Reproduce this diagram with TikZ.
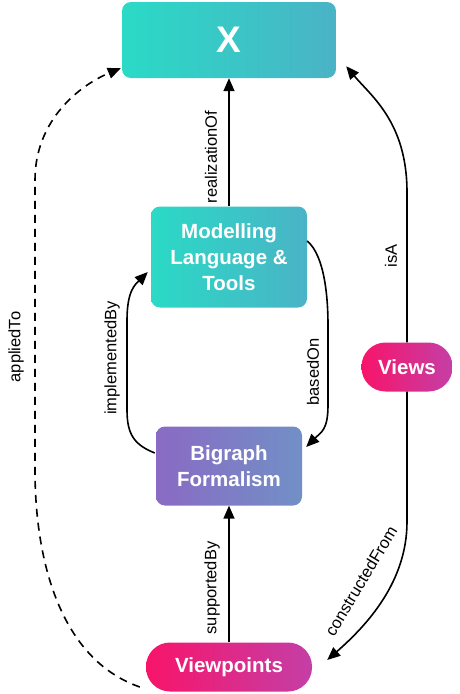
\documentclass[tikz,border=0pt]{standalone}
\usepackage{fontspec}
\setmainfont{Liberation Sans}
\usetikzlibrary{arrows.meta}
\definecolor{tealA}{HTML}{2ADAC6}
\definecolor{tealB}{HTML}{4AB3C6}
\definecolor{purA}{HTML}{8A6AC4}
\definecolor{purB}{HTML}{7190C6}
\definecolor{pinkA}{HTML}{F8146A}
\definecolor{pinkB}{HTML}{C43FA6}
\begin{document}
\begin{tikzpicture}[x=1pt,y=-1pt,
  box/.style={rounded corners=9pt, text=white, align=center, inner sep=0pt,
    font=\bfseries\fontsize{20.5}{26}\selectfont},
  tealbox/.style={box, left color=tealA, right color=tealB},
  purbox/.style={box, left color=purA, right color=purB},
  pill/.style={box, rounded corners=24pt, left color=pinkA, right color=pinkB},
  rel/.style={-{Triangle[length=13pt,width=11pt]}, line width=1.6pt},
  lbl/.style={font=\fontsize{16.5}{19}\selectfont, inner sep=0pt},
  vlbl/.style={lbl, rotate=90}
]
\useasboundingbox (0,0) rectangle (459,694);

\node[tealbox, minimum width=214pt, minimum height=76pt,
  font=\bfseries\fontsize{37}{40}\selectfont] (x) at (229,40) {X};
\node[tealbox, minimum width=156pt, minimum height=101pt] (mlt) at (229,257)
  {Modelling\\Language \&\\Tools};
\node[purbox, minimum width=146pt, minimum height=79pt] (bg) at (229,466)
  {Bigraph\\Formalism};
\node[pill, minimum width=91pt, minimum height=49pt] (views) at (407,367) {Views};
\node[pill, minimum width=166pt, minimum height=49pt] (vp) at (229,667) {Viewpoints};

% realizationOf
\draw[rel] (mlt.north) -- (x.south);
\node[vlbl] (l1) at (211,157) {realizationOf};

% implementedBy
\draw[rel] ([shift={(-1,-13)}]bg.west) .. controls +(-20,-8) and +(0,25) .. (127,410)
  -- (127,320) .. controls +(0,-30) and +(-12,12) .. ([shift={(-3,15)}]mlt.west);
\node[vlbl] (l2) at (112,358) {implementedBy};

% basedOn
\draw[rel] ([yshift=16]mlt.east) .. controls +(18,15) and +(0,-25) .. (328,325)
  -- (328,405) .. controls +(0,25) and +(15,-15) .. ([shift={(4,-19)}]bg.east);
\node[vlbl] (l3) at (313,372) {basedOn};

% supportedBy
\draw[rel] (vp.north) -- (bg.south);
\node[vlbl] (l4) at (212,588) {supportedBy};

% isA
\draw[rel] (views.north) -- ++(0,-150) .. controls +(0,-70) and +(25,30) .. ([shift={(10,-12)}]x.south east);
\node[vlbl] (l5) at (391,256) {isA};

% constructedFrom
\draw[rel] (views.south) -- ++(0,130) .. controls +(0,60) and +(40,-35) .. ([shift={(15,-7)}]vp.east);
\node[lbl, rotate=59] (l6) at (361,581) {constructedFrom};

% appliedTo
\draw[rel, dashed, dash pattern=on 8pt off 6pt] ([shift={(-6,20)}]vp.west)
  .. controls +(-80,-28) and +(0,90) .. (35,470) -- (35,180)
  .. controls +(0,-60) and +(-41,17) .. ([shift={(-1,-10)}]x.south west);
\node[vlbl] (l7) at (16,347) {appliedTo};
\end{tikzpicture}
\end{document}
